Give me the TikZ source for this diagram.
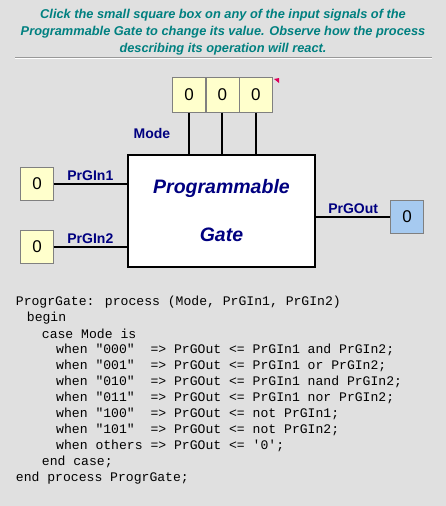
\documentclass[tikz,border=0pt]{standalone}
\usepackage{fontspec}
\setmainfont{Liberation Sans}
\newfontfamily\codefont{Liberation Mono}
\usetikzlibrary{positioning}
\definecolor{pgback}{RGB}{224,224,224}
\definecolor{pgteal}{RGB}{0,128,128}
\definecolor{pgnavy}{RGB}{0,0,128}
\definecolor{pgyellow}{RGB}{255,255,204}
\definecolor{pgblue}{RGB}{166,202,240}
\definecolor{pgmark}{RGB}{220,0,90}

\begin{document}
\begin{tikzpicture}[x=1pt, y=-1pt]
  \tikzset{
    sigbox/.style={draw=black!50, fill=pgyellow, minimum width=33pt, minimum height=33pt, inner sep=0pt, font=\fontsize{17}{17}\selectfont},
    signame/.style={font=\fontsize{14}{14}\selectfont\bfseries, text=pgnavy, inner sep=1pt},
    wire/.style={line width=2pt},
    codeline/.style={anchor=west, inner sep=0pt, font=\codefont\fontsize{13.1}{13}\selectfont}
  }
  \fill[pgback] (0,0) rectangle (446,506);
  \useasboundingbox (0,0) rectangle (446,506);

  % instructions on top
  \node[align=center, text=pgteal, font=\fontsize{12.8}{17}\selectfont\bfseries\itshape] (intro) at (223,32.5) {Click the small square box on any of the input signals of the\\Programmable Gate to change its value. Observe how the process\\describing its operation will react.};
  \draw[black!40] (15,57) -- (432,57);
  \draw[white] (15,58.2) -- (432,58.2);

  % the gate
  \node[draw, line width=2pt, fill=white, minimum width=187pt, minimum height=112pt, align=center, text=pgnavy, font=\fontsize{19.5}{48}\selectfont\bfseries\itshape] (gate) at (221.5,211) {Programmable\\Gate};

  % mode inputs
  \node[sigbox, minimum height=35pt] (m1) at (189,95) {0};
  \node[sigbox, minimum height=35pt, right=0pt of m1] (m2) {0};
  \node[sigbox, minimum height=35pt, right=0pt of m2] (m3) {0};
  \fill[pgmark] (274,79) -- (279,78) -- (279,83) -- cycle;
  \foreach \m in {m1,m2,m3}
    \draw[wire] (\m.south) -- (\m.south |- gate.north);
  \node[signame] (modename) at (152,133) {Mode};

  % data inputs
  \node[sigbox] (in1) at (37,183.5) {0};
  \node[sigbox] (in2) at (37,246.5) {0};
  \draw[wire] (in1.east) -- (in1.east -| gate.west) node[signame, midway, above=1pt] (in1name) {PrGIn1};
  \draw[wire] (in2.east) -- (in2.east -| gate.west) node[signame, midway, above=1pt] (in2name) {PrGIn2};

  % output
  \node[sigbox, fill=pgblue] (out) at (407,216.7) {0};
  \draw[wire] (gate.east |- out.west) -- (out.west) node[signame, midway, above=1pt] (outname) {PrGOut};

  % process text
  \node[codeline] (c1) at (15.7,302) {ProgrGate: process (Mode, PrGIn1, PrGIn2)};
  \node[codeline] (c2) at (26.7,318) {begin};
  \node[codeline] (c3) at (41.7,334) {case Mode is};
  \node[codeline] (c4) at (56,350) {when "000"\ \ => PrGOut <= PrGIn1 and PrGIn2;};
  \node[codeline] (c5) at (56,366) {when "001"\ \ => PrGOut <= PrGIn1 or PrGIn2;};
  \node[codeline] (c6) at (56,382) {when "010"\ \ => PrGOut <= PrGIn1 nand PrGIn2;};
  \node[codeline] (c7) at (56,398) {when "011"\ \ => PrGOut <= PrGIn1 nor PrGIn2;};
  \node[codeline] (c8) at (56,414) {when "100"\ \ => PrGOut <= not PrGIn1;};
  \node[codeline] (c9) at (56,430) {when "101"\ \ => PrGOut <= not PrGIn2;};
  \node[codeline] (c10) at (56,446) {when others => PrGOut <= \textquotesingle0\textquotesingle;};
  \node[codeline] (c11) at (41.7,462) {end case;};
  \node[codeline] (c12) at (15.7,478) {end process ProgrGate;};
\end{tikzpicture}
\end{document}
